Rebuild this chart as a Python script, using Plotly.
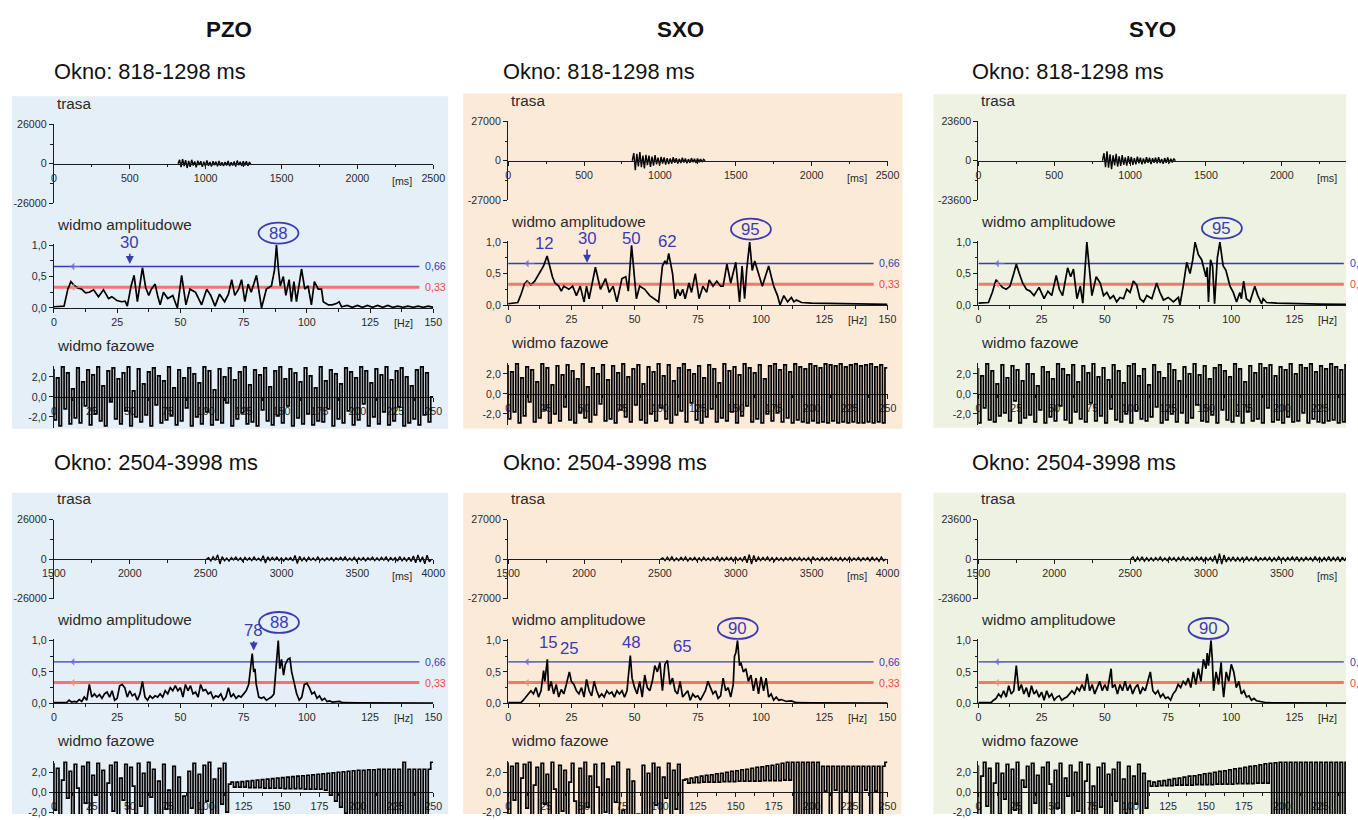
import plotly.graph_objects as go

W, H = 1358, 820
FONT = "Liberation Sans, Arial, sans-serif"
# the photographed page shows the figure slightly inset/scaled; map reference pixels -> figure pixels
OX, OY, SX, SY = 10.0, 4.5, 0.984, 0.987
FS = 1.0 / SX

# ---------------- data ----------------
stations = ["PZO", "SXO", "SYO"]
window_titles = ["Okno: 818-1298 ms", "Okno: 2504-3998 ms"]
trace_limits = [26000, 27000, 23600]
thr_high, thr_low = 0.66, 0.33
thr_high_label, thr_low_label = "0,66", "0,33"

trace_start = [818, 2504]
trace_step = [10, 15]
trace_xrange = [[0, 2500], [1500, 4000]]
trace_xticks = [[0, 500, 1000, 1500, 2000, 2500], [1500, 2000, 2500, 3000, 3500, 4000]]
trace_xminor = [[250, 750, 1250, 1750, 2250], [1750, 2250, 2750, 3250, 3750]]
amp_xticks = [0, 25, 50, 75, 100, 125, 150]
amp_xminor = [12.5, 37.5, 62.5, 87.5, 112.5, 137.5]
amp_yticks = [0, 0.5, 1.0]
amp_yticktext = ["0,0", "0,5", "1,0"]
phase_xticks = [0, 25, 50, 75, 100, 125, 150, 175, 200, 225, 250]
phase_xminor = [12.5, 37.5, 62.5, 87.5, 112.5, 137.5, 162.5, 187.5, 212.5, 237.5]
phase_yticks = [-2, 0, 2]
phase_yticktext = ["-2,0", "0,0", "2,0"]
phase_step = 250 / 150

# trace (trasa) samples
tr_pzo_1 = [0, 2600, -2200, 3000, -1500, 2400, -2800, 1800, -2000, 2600,
            -1200, 1500, -2400, 2000, -900, 1700, -2100, 1300, -1600, 2200,
            -1400, 1100, -1900, 1600, -1000, 1400, -1700, 1900, -1300, 900,
            -1500, 1200, -1100, 1800, -1600, 1000, -1200, 1500, -1800, 2100,
            -900, 1300, -1500, 1700, -1200, 1600, -1400, 900, 0]
tr_sxo_1 = [0, 5200, -6500, 4800, -3900, 6000, -4400, 3500, -5200, 4100,
            -3000, 3600, -4200, 2800, -3300, 3900, -2500, 2100, -3100, 2600,
            -1900, 2300, -2700, 1800, -2200, 1500, -2000, 2400, -1400, 1700,
            -1900, 1300, -1600, 2000, -1200, 1500, -1700, 1100, -1400, 1800,
            -1000, 1300, -1500, 1600, -1100, 1200, -900, 1000, 0]
tr_syo_1 = [0, 4500, -3800, 5600, -4200, 3900, -5000, 3300, -2800, 4100,
            -3500, 2600, -3100, 3400, -2400, 2000, -2900, 2700, -1800, 2300,
            -2500, 1600, -2100, 2400, -1500, 1900, -2200, 1400, -1700, 2100,
            -1300, 1800, -2000, 1500, -1200, 1900, -1600, 2200, -1400, 1100,
            -1800, 1600, -1300, 2000, -1500, 1200, -1000, 1300, 0]
tr_pzo_2 = [0, 900, -1200, 1500, -800, 2800, -3200, 1600, -1100, 700, -1300, 1000, -600, 1200, -900, 800, -1400, 1100, -700, 900,
            -1000, 1300, -800, 600, -1100, 2200, -2600, 1400, -900, 1100, -700, 1200, -1000, 800, -1300, 900, -600, 1000, -1200, 2400,
            -2900, 1800, -1100, 900, -1400, 1200, -800, 700, -1000, 1300, -900, 600, -1100, 800, -700, 1000, -1200, 900, -600, 1100,
            -800, 1300, -1000, 700, -900, 1200, -1300, 800, -700, 1000, -1100, 900, -600, 1200, -1000, 800, -900, 1100, -700, 1300,
            -1200, 900, -800, 1000, -1400, 1600, -1100, 900, -1300, 1200, -1500, 2000, -2400, 2800, -1900, 1500, -3100, 2600, -1800, 0]
tr_sxo_2 = [0, 800, -1100, 1300, -900, 1500, -1200, 700, -1000, 1200, -800, 1400, -1300, 900, -700, 1100, -1000, 800, -1200, 1300,
            -900, 700, -1100, 1000, -800, 1500, -1300, 900, -1000, 1200, -700, 1100, -1400, 1300, -900, 800, -1200, 1900, -2600, 3100,
            -3400, 2500, -1800, 1300, -1000, 1200, -900, 1400, -1100, 900, -1300, 1000, -900, 800, -1200, 1000, -700, 1100, -1000, 900,
            -800, 1200, -1100, 700, -900, 1000, -1300, 1400, -800, 600, -1000, 1200, -900, 800, -1100, 1300, -700, 900, -1000, 1100,
            -1200, 800, -900, 1300, -1000, 700, -800, 1100, -1200, 900, -700, 1000, -1300, 1200, -900, 800, -1500, 1400, -1100, 0]
tr_syo_2 = [0, 1300, -1600, 1100, -900, 1400, -1200, 800, -1000, 700, -1100, 900, -800, 1200, -1000, 600, -900, 1100, -700, 800,
            -1200, 1000, -900, 1300, -800, 700, -1100, 900, -1000, 1200, -700, 1100, -1300, 900, -800, 1000, -1400, 2000, -2700, 3300,
            -3000, 2400, -1700, 1200, -1000, 1400, -1300, 900, -1100, 1000, -800, 1200, -1000, 700, -900, 1300, -1100, 800, -700, 1000,
            -900, 1100, -1200, 800, -1000, 1300, -700, 900, -1100, 1000, -800, 1200, -900, 1400, -1200, 800, -1000, 1100, -700, 900,
            -1100, 1300, -800, 1000, -1200, 900, -1000, 1500, -1300, 1100, -900, 1400, -1600, 1200, -1000, 1800, -1500, 1300, -1200, 0]

# amplitude spectra (Hz, normalised amplitude)
amp_pzo_1 = [(0, 0.02), (4, 0.03), (5.5, 0.3), (6.7, 0.42), (8, 0.36), (9.5, 0.32), (11, 0.3), (12.5, 0.24), (14, 0.25), (15.7, 0.29),
             (17.6, 0.18), (19.6, 0.29), (21.6, 0.15), (22.9, 0.18), (24.9, 0.12), (26.8, 0.1), (28.2, 0.11), (29, 0.03), (30.5, 0.35), (31.7, 0.52),
             (33, 0.1), (35, 0.64), (36.3, 0.32), (37.5, 0.2), (38.5, 0.3), (40, 0.38), (41, 0.2), (42, 0.05), (43.3, 0.25), (45, 0.15),
             (47, 0.2), (48.8, 0.0), (50.5, 0.52), (52.2, 0.05), (53.8, 0.3), (56, 0.25), (58.4, 0.05), (60.4, 0.3), (62, 0.2), (63.7, 0.03),
             (65.5, 0.22), (67.5, 0.1), (69, 0.22), (70.3, 0.45), (71.5, 0.2), (73, 0.3), (74.2, 0.45), (75.5, 0.1), (76.8, 0.38), (78, 0.25),
             (80.1, 0.52), (82.1, 0.0), (84, 0.3), (86, 0.35), (87.2, 0.6), (88, 1.0), (88.8, 0.6), (89.5, 0.35), (90.7, 0.5), (91.7, 0.2),
             (93, 0.45), (93.9, 0.1), (94.9, 0.42), (95.9, 0.1), (97.9, 0.62), (99.2, 0.3), (100.5, 0.35), (101.8, 0.05), (103, 0.42), (104.5, 0.3),
             (105.8, 0.3), (106.5, 0.1), (108.5, 0.05), (110, 0.05), (111.7, 0.07), (112.8, 0.1), (113.7, 0.02),
             (116, 0.04), (118, 0.01), (120, 0.04), (122, 0.01), (124, 0.04), (126, 0.01), (128, 0.04), (130, 0.01), (132, 0.04),
             (134, 0.01), (136, 0.03), (138, 0.01), (140, 0.03), (142, 0.01), (144, 0.03), (146, 0.01), (148, 0.03), (150, 0.01)]
amp_sxo_1 = [(0, 0.02), (3.8, 0.04), (5.1, 0.17), (6.4, 0.33), (7.5, 0.38), (9, 0.32), (10.5, 0.38), (11.5, 0.45), (13, 0.55), (14, 0.62),
             (15.4, 0.78), (16.5, 0.6), (17.5, 0.45), (18.5, 0.35), (20, 0.3), (21, 0.22), (22, 0.3), (24, 0.25), (25.5, 0.3), (27, 0.15),
             (28.5, 0.3), (30, 0.05), (31, 0.3), (32, 0.1), (34.5, 0.6), (36.5, 0.25), (38.5, 0.42), (40, 0.2), (41.5, 0.3), (43, 0.05),
             (45, 0.42), (46.5, 0.45), (47.5, 0.22), (48.8, 0.95), (50.7, 0.1), (52, 0.3), (54, 0.25), (56, 0.15), (58, 0.1), (59.5, 0.05),
             (61, 0.62), (62, 0.7), (62.7, 0.65), (63.5, 0.82), (65, 0.5), (66, 0.1), (67, 0.25), (68, 0.15), (69, 0.25), (70, 0.1),
             (71.5, 0.35), (72.5, 0.2), (74, 0.5), (75.5, 0.1), (77, 0.3), (78.5, 0.2), (79.5, 0.4), (81, 0.3), (82.5, 0.38), (84, 0.3),
             (85, 0.3), (86.5, 0.65), (88, 0.35), (90, 0.68), (91.5, 0.05), (92.5, 0.62), (93.5, 0.1), (94.3, 0.55), (95.5, 1.0), (96.5, 0.55),
             (97.5, 0.7), (99, 0.5), (100.5, 0.3), (103, 0.62), (105, 0.3), (106.5, 0.15), (107.5, 0.0), (109, 0.15), (110.5, 0.05), (112, 0.12),
             (113, 0.05), (114, 0.08), (116, 0.04), (120, 0.03), (125, 0.025), (130, 0.02), (140, 0.015), (150, 0.01)]
amp_syo_1 = [(0, 0.03), (4, 0.04), (5.5, 0.2), (7, 0.4), (8, 0.35), (9.5, 0.28), (11, 0.25), (12.5, 0.3), (14, 0.5), (15, 0.65),
             (16.2, 0.5), (17.5, 0.35), (19, 0.25), (20.5, 0.22), (22, 0.15), (24, 0.28), (26, 0.1), (27.5, 0.22), (29, 0.15), (30.8, 0.47),
             (32, 0.25), (33.3, 0.15), (35.3, 0.59), (36.5, 0.45), (37.6, 0.57), (39, 0.1), (40.3, 0.3), (41.3, 0.03), (42.9, 1.0), (44.9, 0.15),
             (46.6, 0.45), (48.2, 0.35), (49.5, 0.15), (50.8, 0.2), (52.1, 0.1), (53.4, 0.15), (54.7, 0.05), (56, 0.12), (57.4, 0.1), (58.7, 0.25),
             (60, 0.2), (61.3, 0.38), (62.6, 0.32), (63.9, 0.1), (65.3, 0.05), (66.6, 0.15), (68.6, 0.1), (70.5, 0.35), (71.8, 0.2), (73.2, 0.08),
             (75.1, 0.12), (77.1, 0.05), (79.1, 0.12), (79.7, 0.0), (81, 0.3), (82.4, 0.68), (83.7, 0.5), (84.7, 0.7), (85.7, 1.0), (87, 0.8),
             (88.3, 0.72), (89.2, 0.55), (90, 0.45), (90.5, 0.6), (91, 0.05), (91.8, 0.72), (92.6, 0.62), (93.4, 0.02), (94.5, 0.75), (95.5, 1.0),
             (96.8, 0.62), (97.9, 0.55), (99.5, 0.3), (100.8, 0.2), (102.1, 0.05), (103.4, 0.2), (104, 0.1), (104.9, 0.38), (106, 0.1), (107.4, 0.05),
             (109.3, 0.3), (110.5, 0.15), (112, 0.02), (112.6, 0.1), (114, 0.04), (118, 0.03), (125, 0.02), (135, 0.015), (150, 0.01)]
amp_pzo_2 = [(0, 0.01), (5, 0.01), (6, 0.05), (7, 0.02), (8, 0.03), (9, 0.02), (10, 0.06), (11, 0.03), (12, 0.1), (13, 0.05),
             (14, 0.3), (15, 0.1), (16, 0.15), (17, 0.1), (18, 0.14), (19, 0.08), (20, 0.15), (21, 0.18), (22, 0.1), (23, 0.2),
             (24, 0.05), (25, 0.08), (26, 0.28), (27, 0.3), (28, 0.25), (29, 0.1), (30, 0.2), (31, 0.12), (32, 0.15), (33, 0.05),
             (34, 0.15), (35, 0.35), (36, 0.1), (37, 0.05), (38, 0.12), (39, 0.08), (40, 0.12), (41, 0.1), (42, 0.15), (43, 0.1),
             (44, 0.2), (45, 0.15), (46, 0.25), (47, 0.2), (48, 0.28), (49, 0.2), (50, 0.25), (51, 0.1), (52, 0.3), (53, 0.2),
             (54, 0.28), (55, 0.15), (56, 0.18), (57, 0.1), (58, 0.3), (59, 0.2), (60, 0.22), (61, 0.15), (62, 0.18), (63, 0.08),
             (64, 0.12), (65, 0.1), (66, 0.15), (67, 0.05), (68, 0.1), (69, 0.25), (70, 0.1), (71, 0.15), (72, 0.08), (73, 0.12),
             (74, 0.1), (75, 0.15), (76, 0.2), (77, 0.3), (78.4, 0.79), (79, 0.5), (79.5, 0.55), (80, 0.3), (81, 0.1), (82, 0.08),
             (83, 0.1), (84, 0.05), (85, 0.08), (86, 0.1), (87, 0.15), (88, 0.7), (88.7, 1.0), (89.3, 0.55), (90, 0.7), (90.8, 0.45),
             (91.5, 0.62), (92.5, 0.7), (93.3, 0.72), (94, 0.5), (95, 0.3), (96, 0.15), (97, 0.05), (98, 0.1), (99, 0.3), (100, 0.32),
             (101, 0.25), (102, 0.15), (103, 0.18), (104, 0.08), (105, 0.12), (106, 0.05), (107, 0.08), (108, 0.03), (109, 0.04), (110, 0.02),
             (113, 0.03), (114, 0.01), (120, 0.008), (130, 0.006), (150, 0.005)]
amp_sxo_2 = [(0, 0.01), (5, 0.01), (6, 0.05), (7, 0.1), (8, 0.15), (9, 0.2), (10, 0.15), (11, 0.25), (12, 0.1), (13, 0.2),
             (14, 0.52), (14.5, 0.35), (15.5, 0.7), (16, 0.2), (17, 0.35), (18, 0.15), (19, 0.3), (20, 0.1), (21, 0.22), (22, 0.15),
             (23, 0.3), (24.2, 0.5), (25, 0.35), (26, 0.3), (27, 0.2), (28, 0.15), (29, 0.25), (30, 0.1), (31, 0.38), (32, 0.2),
             (33, 0.12), (34, 0.35), (35, 0.2), (36, 0.1), (37, 0.15), (38, 0.1), (39, 0.2), (40, 0.15), (41, 0.18), (42, 0.1),
             (43, 0.2), (44, 0.15), (45, 0.2), (46, 0.1), (47, 0.2), (48.3, 0.76), (49, 0.4), (50, 0.25), (51, 0.15), (52, 0.35),
             (53, 0.1), (54, 0.45), (55, 0.25), (56, 0.2), (57, 0.35), (58, 0.6), (59, 0.5), (60, 0.65), (61, 0.2), (62, 0.62),
             (63, 0.68), (63.5, 0.5), (64, 0.3), (65, 0.4), (66, 0.2), (67, 0.15), (68, 0.35), (69, 0.1), (70, 0.15), (71, 0.2),
             (72, 0.05), (73, 0.15), (74, 0.1), (75, 0.12), (76, 0.05), (77, 0.12), (78, 0.2), (79, 0.35), (80, 0.25), (81, 0.15),
             (82, 0.2), (83, 0.08), (84, 0.12), (85, 0.4), (86, 0.2), (87, 0.25), (88, 0.1), (89, 0.3), (89.5, 0.75), (90, 0.8),
             (90.7, 1.0), (91.5, 0.6), (92, 0.65), (93, 0.5), (94, 0.55), (95, 0.35), (96, 0.45), (97, 0.2), (98, 0.4), (99, 0.15),
             (100, 0.42), (101, 0.2), (102, 0.4), (103, 0.1), (104, 0.15), (105, 0.05), (106, 0.1), (107, 0.05), (108, 0.06), (110, 0.03),
             (112, 0.04), (114, 0.01), (120, 0.008), (150, 0.005)]
amp_syo_2 = [(0, 0.01), (5, 0.01), (6, 0.05), (7, 0.08), (8, 0.15), (9, 0.1), (10, 0.2), (11, 0.1), (12, 0.28), (13, 0.15),
             (14, 0.2), (15, 0.6), (16, 0.2), (17, 0.3), (18, 0.15), (19, 0.25), (20, 0.1), (21, 0.28), (22, 0.15), (23, 0.2),
             (24, 0.1), (25, 0.18), (26, 0.05), (27, 0.2), (28, 0.1), (29, 0.15), (30, 0.05), (31, 0.1), (32, 0.12), (33, 0.05),
             (34, 0.08), (35, 0.1), (36, 0.15), (37, 0.2), (38, 0.15), (39, 0.25), (40, 0.2), (41, 0.3), (42, 0.2), (43, 0.47),
             (44, 0.2), (45, 0.3), (46, 0.15), (47, 0.25), (48, 0.35), (49, 0.2), (50, 0.3), (51, 0.2), (52.5, 0.55), (53, 0.25),
             (54, 0.3), (55, 0.15), (56, 0.3), (57, 0.2), (58, 0.35), (59, 0.2), (60, 0.3), (61, 0.15), (62, 0.25), (63, 0.3),
             (64, 0.15), (65, 0.25), (66, 0.2), (67, 0.35), (68, 0.5), (69, 0.2), (70, 0.15), (71, 0.2), (72, 0.1), (73, 0.15),
             (74, 0.08), (75, 0.1), (76, 0.05), (77, 0.15), (78, 0.2), (79, 0.3), (80, 0.25), (81, 0.35), (82, 0.3), (83, 0.4),
             (84, 0.25), (85, 0.5), (86, 0.3), (87, 0.55), (88, 0.35), (89, 0.7), (90, 0.55), (90.5, 0.8), (91, 0.6), (92, 1.0),
             (92.5, 0.7), (93, 0.2), (94, 0.5), (95, 0.3), (96, 0.65), (96.5, 0.3), (97, 0.1), (98, 0.5), (99, 0.35), (100, 0.62),
             (101, 0.5), (102, 0.25), (103, 0.35), (104, 0.15), (105, 0.2), (106, 0.1), (107, 0.12), (108, 0.05), (109, 0.08), (110, 0.04),
             (112, 0.03), (114, 0.01), (120, 0.008), (150, 0.005)]

# phase spectra (rad), 151 samples over 0-250 Hz
ph_pzo_1 = [2.8, -2.3, 1.9, -2.9, 3.0, -1.2, 2.4, -2.7, 0.8, -2.1, 2.9, -2.6, 1.5, -0.9, 2.7, -2.8, 2.2, -1.7, 3.0, -2.4,
            1.1, -2.9, 2.6, -0.5, 2.9, -2.2, 1.8, -2.7, 2.4, -1.4, 3.0, -2.9, 0.6, -2.0, 2.8, -2.5, 1.3, -1.8, 2.5, -2.9,
            2.9, -0.8, 2.1, -2.6, 1.6, -2.3, 3.0, -1.9, 0.9, -2.8, 2.7, -2.4, 1.9, -1.1, 2.9, -2.9, 2.3, -2.0, 1.4, -2.7,
            3.0, -1.5, 2.6, -2.8, 0.7, -2.3, 2.8, -2.6, 2.0, -0.6, 2.9, -2.9, 1.7, -2.2, 2.5, -1.6, 3.0, -2.7, 1.2, -2.5,
            2.7, -2.9, 2.2, -1.3, 2.9, -2.4, 1.0, -2.8, 2.6, -1.9, 3.0, -2.6, 1.8, -0.9, 2.8, -2.9, 2.4, -2.1, 1.5, -2.7,
            2.9, -1.7, 2.1, -2.8, 0.9, -2.4, 3.0, -2.5, 1.6, -1.2, 2.7, -2.9, 2.3, -2.2, 1.3, -2.6, 2.9, -1.4, 2.5, -2.8,
            1.9, -2.3, 3.0, -0.7, 2.6, -2.9, 1.4, -2.0, 2.8, -2.7, 2.2, -1.5, 3.0, -2.8, 1.7, -2.4, 2.6, -1.0, 2.9, -2.9,
            2.0, -2.6, 1.1, -2.2, 2.7, -2.8, 3.0, -1.8, 2.4, -2.5, 0.0]
ph_sxo_1 = [2.9, -2.5, 2.2, -1.8, 3.0, -2.9, 1.6, -2.2, 2.7, -0.8, 2.4, -2.8, 1.2, -2.4, 3.0, -1.6, 2.6, -2.9, 0.9, -2.0,
            2.8, -2.7, 1.9, -1.3, 2.9, -2.6, 2.3, -2.9, 1.5, -1.9, 3.0, -2.4, 0.7, -2.8, 2.6, -2.1, 2.0, -1.0, 2.9, -2.7,
            1.4, -2.5, 2.8, -2.9, 2.1, -1.6, 3.0, -2.3, 1.7, -2.8, 2.5, -1.1, 2.9, -2.6, 1.0, -2.9, 2.7, -2.0, 2.2, -2.7,
            3.0, -1.4, 1.8, -2.5, 2.9, -2.9, 1.3, -2.1, 2.6, -1.7, 3.0, -2.8, 2.4, -0.9, 2.0, -2.6, 2.8, -2.9, 1.6, -2.3,
            2.9, -1.5, 2.5, -2.8, 1.1, -2.4, 3.0, -2.7, 2.3, -1.8, 2.7, -2.9, 1.9, -2.2, 3.0, -1.2, 2.6, -2.8, 2.1, -2.5,
            2.9, -2.9, 1.5, -2.0, 2.8, -2.7, 3.0, -1.9, 2.4, -2.8, 2.9, -2.4, 2.2, -2.9, 3.0, -2.6, 2.7, -2.8, 2.5, -2.9,
            3.0, -2.7, 2.8, -2.9, 2.6, -2.8, 3.0, -2.9, 2.9, -2.7, 2.8, -2.9, 3.0, -2.8, 2.7, -2.9, 2.9, -2.8, 3.0, -2.9,
            2.8, -2.9, 2.9, -2.8, 3.0, -2.9, 2.7, -2.8, 2.9, -2.9, 2.6]
ph_syo_1 = [2.6, -2.9, 1.8, -1.4, 3.0, -2.6, 2.3, -2.8, 1.0, -2.2, 2.9, -1.9, 1.6, -2.7, 2.8, -0.7, 2.4, -2.9, 1.3, -2.4,
            3.0, -2.1, 2.0, -2.8, 0.8, -1.6, 2.7, -2.9, 2.2, -2.3, 1.5, -2.7, 3.0, -1.2, 2.5, -2.6, 1.9, -2.9, 2.9, -1.8,
            1.2, -2.5, 2.8, -2.8, 2.1, -0.9, 3.0, -2.7, 1.7, -2.2, 2.6, -2.9, 1.4, -1.5, 2.9, -2.6, 2.3, -2.8, 1.1, -2.0,
            2.8, -2.9, 3.0, -1.7, 1.8, -2.5, 2.5, -2.7, 0.9, -2.3, 2.9, -1.3, 2.2, -2.9, 1.6, -2.6, 3.0, -2.0, 2.4, -2.8,
            1.3, -1.9, 2.7, -2.9, 2.0, -2.4, 3.0, -1.1, 1.9, -2.7, 2.8, -2.8, 1.5, -2.1, 2.6, -2.9, 2.9, -1.6, 2.3, -2.6,
            1.7, -2.8, 3.0, -2.2, 2.5, -2.9, 1.2, -1.8, 2.8, -2.7, 2.1, -2.5, 3.0, -2.9, 2.6, -1.4, 2.9, -2.8, 1.8, -2.6,
            2.7, -2.9, 2.4, -2.3, 3.0, -2.8, 2.0, -2.7, 2.9, -1.9, 2.6, -2.9, 3.0, -2.5, 2.2, -2.8, 2.8, -2.9, 2.5, -2.7,
            3.0, -2.6, 2.7, -2.9, 2.4, -2.8, 2.9, -2.4, 3.0, -2.9, 2.1]
ph_pzo_2 = [2.9, -1.8, 2.4, -2.9, 1.2, 3.0, -0.6, 2.1, -2.7, 2.8, 0.4, -2.3, 2.6, -1.1, 3.0, -2.8, 1.7, -0.3, 2.9, -2.5,
            2.2, -2.9, 0.9, 2.7, -1.9, 3.0, -2.6, 1.4, -0.8, 2.8, -2.9, 2.5, 0.6, -2.2, 2.9, -1.4, 1.9, -2.8, 3.0, -0.5,
            2.3, -2.6, 1.1, -2.9, 2.8, -1.7, 0.2, -2.4, 2.6, -3.0, 1.5, -2.7, -0.4, -2.9, 2.1, -1.6, 2.9, -2.8, 1.8, -2.2,
            2.7, -0.9, 3.0, -2.5, 1.3, -2.9, 2.4, -1.2, 2.9, -2.0, 0.8, 1.0,
            0.5, 1.0, 0.5, 1.05, 0.5, 1.1, 0.45, 1.15, 0.45, 1.2, 0.45, 1.25, 0.4, 1.3, 0.4, 1.35, 0.4, 1.4, 0.4, 1.45,
            0.35, 1.5, 0.35, 1.55, 0.35, 1.6, 0.35, 1.65, 0.3, 1.7, 0.3, 1.75, 0.3, 1.8, 0.3, 1.85, 0.2, 1.9, -0.3, 1.95,
            -0.9, 2.0, -1.5, 2.05, -2.1, 2.1, -2.6, 2.15, -3.0, 2.2, -3.1, 2.2, -3.1, 2.25, -3.1, 2.25, -3.1, 2.3, -3.1, 2.3,
            -3.1, 2.3, -3.1, 2.3, -3.1, 2.3, -3.1, 3.0, -3.1, 2.3, -3.1, 2.3, -3.1, 2.3, -3.1, 2.3, -3.1, 2.3, 3.0]
ph_sxo_2 = [3.0, -2.2, 2.6, -0.8, 2.9, -2.8, 1.4, 2.8, -1.6, 3.0, -2.9, 0.7, 2.5, -2.4, 2.9, -1.2, 1.8, -2.8, 3.0, 0.3,
            -2.6, 2.7, -1.9, 2.2, -2.9, 1.0, 2.9, -0.9, -2.7, 2.4, -2.2, 3.0, -1.5, 1.6, -2.9, 2.8, 0.5, -2.5, 2.9, -2.0,
            1.3, -2.8, 2.6, -1.0, 3.0, -2.9, -1.8, -2.9, 2.3, -3.0, 1.1, -2.9, -2.2, -3.0, 2.7, -2.6, 1.9, -2.4, 2.9, -1.3,
            2.5, -2.8, 1.5, -0.6, 2.9, -2.5, 2.2, -1.7, 2.8, -2.3, 1.2,
            1.3, 0.9, 1.4, 0.95, 1.5, 0.95, 1.6, 1.0, 1.7, 1.0, 1.75, 1.0, 1.85, 1.0, 1.9, 1.05, 2.0, 1.05, 2.1, 1.05,
            2.15, 1.1, 2.25, 1.1, 2.3, 1.1, 2.4, 1.1, 2.5, 1.1, 2.55, 1.15, 2.65, 1.15, 2.7, 1.15, 2.8, 1.15, 2.9, 1.2,
            3.0, 1.2, 3.0, -2.9, 3.0, -2.9, 3.0, -2.9, 3.0, -2.9, 3.0, -2.9, 3.0, -2.9, 2.6, 0.1, 2.6, -2.8, 2.6, 0.2,
            2.6, -2.9, 2.6, 0.1, 2.6, -2.8, 2.6, 0.0, 2.6, -2.9, 2.6, 0.2, 2.6, -2.8, 2.6, 0.1, 2.6, -2.9, 2.6, 3.0]
ph_syo_2 = [2.7, -2.9, 1.6, 3.0, -1.4, 2.4, -2.7, 0.9, 2.9, -2.2, 1.9, -0.7, 2.8, -2.9, 2.3, -1.8, 3.0, -2.5, 1.2, 0.5,
            2.6, -2.8, 2.9, -1.1, 1.7, -2.9, 2.5, -2.3, 3.0, 0.8, -2.6, 2.2, -1.6, 2.9, -2.8, 1.4, -0.4, 2.7, -2.9, 2.0,
            -1.9, 3.0, -2.4, 1.1, 2.8, -2.7, 0.6, -2.9, 2.5, -1.5, 2.9, -2.6, 1.8, -2.9, 2.3, -0.9, 3.0, -2.8, 1.3, -2.1,
            2.6, -2.9, 1.6, -1.2, 2.8, -2.4, 1.9, -1.6, 1.1,
            0.6, 1.0, 0.6, 1.1, 0.65, 1.15, 0.65, 1.25, 0.65, 1.35, 0.7, 1.4, 0.7, 1.5, 0.7, 1.6, 0.7, 1.65, 0.75, 1.75,
            0.75, 1.85, 0.75, 1.9, 0.75, 2.0, 0.8, 2.1, 0.8, 2.15, 0.8, 2.25, 0.8, 2.35, 0.85, 2.4, 0.85, 2.5, 0.85, 2.6,
            0.85, 2.65, 0.9, 2.75, 0.9, 2.85, 0.9, 2.9, -3.1, 2.95, -3.1, 3.0, -3.1, 3.0, -3.1, 3.0, -3.1, 3.0, -3.1, 3.0,
            -3.1, 3.0, -3.1, 3.0, -3.1, 3.0, -3.1, 3.0, -3.1, 3.0, -3.1, 3.0, -3.1, 3.0, -3.1, 3.0, -3.1, 3.0, -3.1, 3.0,
            -3.1, 3.0]

traces = {(0, 0): tr_pzo_1, (0, 1): tr_sxo_1, (0, 2): tr_syo_1,
          (1, 0): tr_pzo_2, (1, 1): tr_sxo_2, (1, 2): tr_syo_2}
amps = {(0, 0): amp_pzo_1, (0, 1): amp_sxo_1, (0, 2): amp_syo_1,
        (1, 0): amp_pzo_2, (1, 1): amp_sxo_2, (1, 2): amp_syo_2}
phases = {(0, 0): ph_pzo_1, (0, 1): ph_sxo_1, (0, 2): ph_syo_1,
          (1, 0): ph_pzo_2, (1, 1): ph_sxo_2, (1, 2): ph_syo_2}

# peak labels: (text, Hz)
peak_circled = {(0, 0): ("88", 88.8), (0, 1): ("95", 96.0), (0, 2): ("95", 96.3),
                (1, 0): ("88", 89.0), (1, 1): ("90", 90.8), (1, 2): ("90", 91.0)}
peak_plain = {(0, 1): [("12", 14.2), ("50", 48.6), ("62", 63.2)],
              (1, 1): [("15", 15.8), ("25", 24.1), ("48", 48.6), ("65", 69.1)]}
peak_arrowed = {(0, 0): [("30", 30.0, 0.70)], (0, 1): [("30", 31.2, 0.67)], (1, 0): [("78", 79.0, 0.84)]}

# ---------------- layout geometry (reference pixels) ----------------
COL_X0 = [52, 507, 978]
PLOT_W = 380
DY = {(0, 0): 0, (0, 1): -3, (0, 2): -3, (1, 0): 396, (1, 1): 396, (1, 2): 396}
TR_TOP, TR_BOT = 123, 202
AMP_TOP, AMP_BOT = 244, 307
PH_ZERO, PH_SCALE, PH_LIM = 396, 10.0, 3.14
PANEL_RECTS = {(0, 0): (8, 95, 447, 428), (0, 1): (462, 92, 902, 428), (0, 2): (933, 93, 1358, 427),
               (1, 0): (8, 492, 447, 820), (1, 1): (462, 492, 901, 820), (1, 2): (933, 492, 1358, 820)}
PANEL_COLORS = ["#e5eff7", "#fcead9", "#edf2e2"]
TITLE_POS = [(227, 28), (680, 28), (1152, 28)]
OKNO_X = [50, 500, 970]
OKNO_Y = [70, 462]
CIRCLE_DY = {(0, 0): -75, (0, 1): -76, (0, 2): -77, (1, 0): -81, (1, 1): -75, (1, 2): -75}
PLAIN_DY = {(0, 1): [-62, -67, -64], (1, 1): [-61, -55, -61, -57]}
ARROW_AY = {(0, 0): [-21], (0, 1): [-24], (1, 0): [-20]}

BLUE = "#3b3bb0"
RED_LINE = "rgba(243,98,86,0.85)"
RED_TXT = "#ea4a3e"
INK = "#1c1c1c"
LBL = "#2a2a2a"


def clip01(v):
    return max(0.0, min(1.0, v))


def px_x(p):          # reference px -> figure px
    return (p - OX) / SX


def px_y(p):
    return (p - OY) / SY


def fx(p):
    return px_x(p) / W


def fy(p):
    return 1 - px_y(p) / H


def xdom_range(p0, p1, d0, d1):
    a, b = px_x(p0), px_x(p1)
    if b > W:
        d1 = d0 + (d1 - d0) * (W - a) / (b - a)
        b = W
    return [a / W, b / W], [d0, d1]


def ydom_range(p_top, p_bot, v_top, v_bot):
    a, b = px_y(p_top), px_y(p_bot)
    if b > H:
        v_bot = v_top - (v_top - v_bot) * (H - a) / (b - a)
        b = H
    return [1 - b / H, 1 - a / H], [v_bot, v_top]


def nm(k):
    return "" if k == 1 else str(k)


axis_common = dict(showline=True, linecolor=INK, linewidth=1.3, ticks="outside", ticklen=4,
                   tickwidth=1.2, tickcolor=INK, showgrid=False, zeroline=False,
                   tickfont=dict(family=FONT, size=10.5 * FS, color=LBL), fixedrange=True, tickmode="array")
minor_common = dict(ticks="outside", ticklen=2.5, tickwidth=1, tickcolor=INK, showgrid=False, tickmode="array")

fig = go.Figure()
shapes, annotations, axes = [], [], {}


def text_ann(txt, xp, yp, size, color=LBL, xanchor="left", bold=False):
    annotations.append(dict(text=("<b>%s</b>" % txt) if bold else txt, x=fx(xp), y=fy(yp),
                            xref="paper", yref="paper", xanchor=xanchor, yanchor="middle", showarrow=False,
                            font=dict(family=FONT, size=size * FS, color=color)))


for c, name in enumerate(stations):
    text_ann(name, TITLE_POS[c][0], TITLE_POS[c][1], 22, "#111", "center", True)
    for r in range(2):
        text_ann(window_titles[r], OKNO_X[c], OKNO_Y[r], 21.5, "#111")

k = 0
for r in range(2):
    for c in range(3):
        key = (r, c)
        dy = DY[key]
        x0 = COL_X0[c]
        bx0, by0, bx1, by1 = PANEL_RECTS[key]
        shapes.append(dict(type="rect", xref="paper", yref="paper", x0=clip01(fx(bx0)), x1=clip01(fx(bx1)),
                           y0=clip01(fy(by1)), y1=clip01(fy(by0)), fillcolor=PANEL_COLORS[c],
                           line=dict(width=0), layer="below"))

        # ---- trasa ----
        k += 1
        A = trace_limits[c]
        t_top, t_bot = TR_TOP + dy, TR_BOT + dy
        t_zero = (t_top + t_bot) / 2
        xdom, xr = xdom_range(x0, x0 + PLOT_W, trace_xrange[r][0], trace_xrange[r][1])
        axes["xaxis" + nm(k)] = dict(axis_common, domain=xdom, range=xr, anchor="free",
                                     position=fy(t_zero), tickvals=trace_xticks[r],
                                     ticktext=[str(v) for v in trace_xticks[r]],
                                     minor=dict(minor_common, tickvals=trace_xminor[r]))
        ydom, yr = ydom_range(t_top, t_bot, A, -A)
        axes["yaxis" + nm(k)] = dict(axis_common, domain=ydom, range=yr,
                                     anchor="x" + nm(k), tickvals=[-A, 0, A], ticktext=["-%d" % A, "0", "%d" % A],
                                     minor=dict(minor_common, tickvals=[-A / 2, A / 2]))
        fig.add_trace(go.Scatter(x0=trace_start[r], dx=trace_step[r], y=traces[key], mode="lines",
                                 line=dict(color="black", width=1.4), xaxis="x" + nm(k), yaxis="y" + nm(k),
                                 hoverinfo="skip", showlegend=False))
        text_ann("trasa", x0 + 1, t_top - 21, 15)
        text_ann("[ms]", x0 + 349, t_zero + 17, 10.5, LBL, "center")

        # ---- widmo amplitudowe ----
        k += 1
        a_top, a_bot = AMP_TOP + dy, AMP_BOT + dy
        xdom, xr = xdom_range(x0, x0 + PLOT_W, 0, 150)
        axes["xaxis" + nm(k)] = dict(axis_common, domain=xdom, range=xr, anchor="y" + nm(k),
                                     tickvals=amp_xticks, ticktext=[str(v) for v in amp_xticks],
                                     minor=dict(minor_common, tickvals=amp_xminor))
        ydom, yr = ydom_range(a_top - 1, a_bot, 1.016, 0)
        axes["yaxis" + nm(k)] = dict(axis_common, domain=ydom, range=yr,
                                     anchor="x" + nm(k), tickvals=amp_yticks, ticktext=amp_yticktext,
                                     minor=dict(minor_common, tickvals=[0.25, 0.75]))
        xa, ya = "x" + nm(k), "y" + nm(k)
        fig.add_trace(go.Scatter(x=[0, 144.5], y=[thr_low, thr_low], mode="lines",
                                 line=dict(color=RED_LINE, width=3), xaxis=xa, yaxis=ya,
                                 hoverinfo="skip", showlegend=False))
        fig.add_trace(go.Scatter(x=[0, 144.5], y=[thr_high, thr_high], mode="lines",
                                 line=dict(color=BLUE, width=1.4), xaxis=xa, yaxis=ya,
                                 hoverinfo="skip", showlegend=False))
        pts = amps[key]
        fig.add_trace(go.Scatter(x=[p[0] for p in pts], y=[p[1] for p in pts], mode="lines",
                                 line=dict(color="black", width=1.7), xaxis=xa, yaxis=ya,
                                 hoverinfo="skip", showlegend=False))

        def hz2px(hz):
            return x0 + hz / 150.0 * PLOT_W

        def amp2py(v):
            return a_bot - v * (AMP_BOT - AMP_TOP)

        for thr, lab, col, acol in [(thr_high, thr_high_label, BLUE, "rgba(110,110,215,0.8)"),
                                    (thr_low, thr_low_label, RED_TXT, "rgba(246,140,128,0.9)")]:
            text_ann(lab, hz2px(146), amp2py(thr), 10.5, col, "left")
            annotations.append(dict(text="", x=6.5, y=thr, ax=11, ay=thr, xref=xa, yref=ya, axref=xa, ayref=ya,
                                    showarrow=True, arrowhead=1, arrowsize=1.1, arrowwidth=1.2, arrowcolor=acol))
        text_ann("widmo amplitudowe", x0 + 1, a_top - 21, 15)
        text_ann("[Hz]", x0 + 350, a_bot + 15, 10.5, LBL, "center")

        txt, hz = peak_circled[key]
        cy = a_bot + CIRCLE_DY[key]
        cx = hz2px(hz)
        shapes.append(dict(type="circle", xref="paper", yref="paper", x0=fx(cx - 20), x1=fx(cx + 20),
                           y0=fy(cy + 10.5), y1=fy(cy - 10.5), line=dict(color=BLUE, width=1.8)))
        text_ann(txt, cx, cy, 16.5, BLUE, "center")
        for (txt, hz), ddy in zip(peak_plain.get(key, []), PLAIN_DY.get(key, [])):
            text_ann(txt, hz2px(hz), a_bot + ddy, 16.5, BLUE, "center")
        for (txt, hz, tip), ay in zip(peak_arrowed.get(key, []), ARROW_AY.get(key, [])):
            annotations.append(dict(text=txt, x=hz, y=tip, xref=xa, yref=ya, ax=0, ay=ay / SY, showarrow=True,
                                    arrowhead=2, arrowsize=1, arrowwidth=1.6, arrowcolor=BLUE, standoff=0,
                                    font=dict(family=FONT, size=16.5 * FS, color=BLUE)))

        # ---- widmo fazowe ----
        k += 1
        p_zero = PH_ZERO + dy
        xdom, xr = xdom_range(x0, x0 + PLOT_W, 0, 250)
        axes["xaxis" + nm(k)] = dict(axis_common, domain=xdom, range=xr, anchor="free",
                                     position=fy(p_zero), tickvals=phase_xticks,
                                     ticktext=[str(v) for v in phase_xticks], layer="below traces",
                                     minor=dict(minor_common, tickvals=phase_xminor))
        ydom, yr = ydom_range(p_zero - PH_LIM * PH_SCALE, p_zero + PH_LIM * PH_SCALE, PH_LIM, -PH_LIM)
        axes["yaxis" + nm(k)] = dict(axis_common, domain=ydom, range=yr,
                                     anchor="x" + nm(k), tickvals=phase_yticks, ticktext=phase_yticktext)
        fig.add_trace(go.Scatter(x0=0, dx=phase_step, y=phases[key], mode="lines",
                                 line=dict(color="black", width=1.7, shape="vh"),
                                 xaxis="x" + nm(k), yaxis="y" + nm(k), hoverinfo="skip", showlegend=False))
        text_ann("widmo fazowe", x0 + 1, p_zero - PH_LIM * PH_SCALE - 20, 15)

fig.update_layout(autosize=True, margin=dict(l=0, r=0, t=0, b=0, pad=0),
                  paper_bgcolor="white", plot_bgcolor="rgba(0,0,0,0)",
                  shapes=shapes, annotations=annotations, showlegend=False, **axes)

fig.write_html("out.html", config={"displayModeBar": False},
               default_width="%dpx;position:fixed;left:0;top:0" % W, default_height="%dpx" % H)
